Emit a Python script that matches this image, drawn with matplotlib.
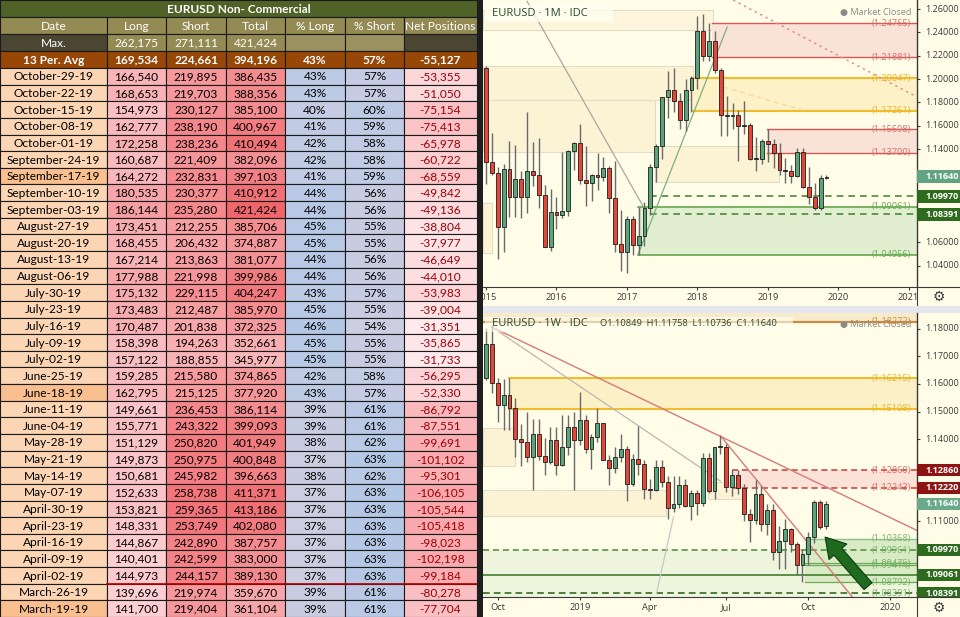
import numpy as np
import matplotlib
matplotlib.use("Agg")
import matplotlib.pyplot as plt
from matplotlib.patches import Rectangle
from matplotlib.colors import to_rgb

# ---------------- DATA: COT table ----------------
dates = ["October-29-19", "October-22-19", "October-15-19", "October-08-19", "October-01-19",
         "September-24-19", "September-17-19", "September-10-19", "September-03-19",
         "August-27-19", "August-20-19", "August-13-19", "August-06-19",
         "July-30-19", "July-23-19", "July-16-19", "July-09-19", "July-02-19",
         "June-25-19", "June-18-19", "June-11-19", "June-04-19",
         "May-28-19", "May-21-19", "May-14-19", "May-07-19",
         "April-30-19", "April-23-19", "April-16-19", "April-09-19", "April-02-19",
         "March-26-19", "March-19-19"]
long_pos = [166540, 168653, 154973, 162777, 172258, 160687, 164272, 180535, 186144, 173451, 168455,
            167214, 177988, 175132, 173483, 170487, 158398, 157122, 159285, 162795, 149661, 155771,
            151129, 149873, 150681, 152633, 153821, 148331, 144867, 140401, 144973, 139696, 141700]
short_pos = [219895, 219703, 230127, 238190, 238236, 221409, 232831, 230377, 235280, 212255, 206432,
             213863, 221998, 229115, 212487, 201838, 194263, 188855, 215580, 215125, 236453, 243322,
             250820, 250975, 245982, 258738, 259365, 253749, 242890, 242599, 244157, 219974, 219404]
total_pos = [386435, 388356, 385100, 400967, 410494, 382096, 397103, 410912, 421424, 385706, 374887,
             381077, 399986, 404247, 385970, 372325, 352661, 345977, 374865, 377920, 386114, 399093,
             401949, 400848, 396663, 411371, 413186, 402080, 387757, 383000, 389130, 359670, 361104]
pct_long = [43, 43, 40, 41, 42, 42, 41, 44, 44, 45, 45, 44, 44, 43, 45, 46, 45, 45, 42, 43, 39, 39,
            38, 37, 38, 37, 37, 37, 37, 37, 37, 39, 39]
pct_short = [57, 57, 60, 59, 58, 58, 59, 56, 56, 55, 55, 56, 56, 57, 55, 54, 55, 55, 58, 57, 61, 61,
             62, 63, 62, 63, 63, 63, 63, 63, 63, 61, 61]
net_pos = [-53355, -51050, -75154, -75413, -65978, -60722, -68559, -49842, -49136, -38804, -37977,
           -46649, -44010, -53983, -39004, -31351, -35865, -31733, -56295, -52330, -86792, -87551,
           -99691, -101102, -95301, -106105, -105544, -105418, -98023, -102198, -99184, -80278, -77704]
highlight_dates = ["September-17-19", "June-18-19", "March-19-19"]
table_title = "EURUSD Non- Commercial"
headers = ["Date", "Long", "Short", "Total", "% Long", "% Short", "Net Positions"]
max_vals = [262175, 271111, 421424]
avg_label = "13 Per. Avg"
avg_vals = [169534, 224661, 394196, "43%", "57%", -55127]

# ---------------- DATA: monthly candles (Jan 2015 .. Nov 2019) ----------------
m_open = [1.2098, 1.1291, 1.1196, 1.0731, 1.1225, 1.0986, 1.1146, 1.0985, 1.1212, 1.1177, 1.1004, 1.0564,
          1.0862, 1.0831, 1.0873, 1.1380, 1.1453, 1.1131, 1.1105, 1.1175, 1.1157, 1.1241, 1.0983, 1.0590,
          1.0517, 1.0798, 1.0575, 1.0652, 1.0895, 1.1242, 1.1426, 1.1843, 1.1906, 1.1813, 1.1646, 1.1902,
          1.2005, 1.2414, 1.2194, 1.2324, 1.2075, 1.1693, 1.1683, 1.1692, 1.1600, 1.1604, 1.1312, 1.1315,
          1.1466, 1.1446, 1.1370, 1.1217, 1.1214, 1.1169, 1.1371, 1.1076, 1.0988, 1.0899, 1.1150]
m_high = [1.2109, 1.1534, 1.1245, 1.1268, 1.1467, 1.1436, 1.1215, 1.1714, 1.1460, 1.1495, 1.1095, 1.1060,
          1.0986, 1.1376, 1.1392, 1.1464, 1.1616, 1.1428, 1.1186, 1.1366, 1.1328, 1.1258, 1.1300, 1.0875,
          1.0829, 1.0829, 1.0906, 1.0950, 1.1268, 1.1446, 1.1846, 1.2070, 1.2092, 1.1880, 1.2000, 1.2025,
          1.2537, 1.2555, 1.2476, 1.2414, 1.2096, 1.1852, 1.1791, 1.1733, 1.1815, 1.1625, 1.1500, 1.1485,
          1.1570, 1.1489, 1.1448, 1.1324, 1.1264, 1.1412, 1.1412, 1.1250, 1.1109, 1.1179, 1.1176]
m_low = [1.1098, 1.1177, 1.0457, 1.0520, 1.0818, 1.0818, 1.0808, 1.0848, 1.1086, 1.0897, 1.0558, 1.0523,
         1.0711, 1.0810, 1.0822, 1.1217, 1.1097, 1.0912, 1.0952, 1.1046, 1.1122, 1.0852, 1.0518, 1.0352,
         1.0340, 1.0494, 1.0494, 1.0569, 1.0839, 1.1119, 1.1312, 1.1662, 1.1717, 1.1575, 1.1554, 1.1718,
         1.1916, 1.2155, 1.2155, 1.2055, 1.1510, 1.1508, 1.1575, 1.1301, 1.1525, 1.1302, 1.1216, 1.1269,
         1.1289, 1.1234, 1.1176, 1.1110, 1.1107, 1.1160, 1.1070, 1.0926, 1.0879, 1.0879, 1.1143]
m_close = [1.1291, 1.1196, 1.0731, 1.1225, 1.0986, 1.1146, 1.0985, 1.1212, 1.1177, 1.1004, 1.0564, 1.0862,
           1.0831, 1.0873, 1.1380, 1.1453, 1.1131, 1.1105, 1.1175, 1.1157, 1.1241, 1.0983, 1.0590, 1.0517,
           1.0798, 1.0575, 1.0652, 1.0895, 1.1242, 1.1426, 1.1843, 1.1906, 1.1813, 1.1646, 1.1902, 1.2005,
           1.2414, 1.2194, 1.2324, 1.2075, 1.1693, 1.1683, 1.1692, 1.1600, 1.1604, 1.1312, 1.1315, 1.1466,
           1.1446, 1.1370, 1.1217, 1.1214, 1.1169, 1.1371, 1.1076, 1.0988, 1.0899, 1.1150, 1.1164]
m_years = ["2015", "2016", "2017", "2018", "2019", "2020", "2021"]
m_year_idx = [0, 12, 24, 36, 48, 60, 72]
m_price_ticks = [1.26, 1.24, 1.22, 1.20, 1.18, 1.16, 1.14, 1.06, 1.04]

# ---------------- DATA: weekly candles (week of 2018-09-17 .. 2019-10-28) ----------------
w_start = "2018-09-17"
w_open = [1.1623, 1.1747, 1.1604, 1.1525, 1.1561, 1.1511, 1.1400, 1.1389, 1.1333, 1.1418, 1.1339, 1.1315,
          1.1398, 1.1305, 1.1370, 1.1443, 1.1395, 1.1468, 1.1363, 1.1406, 1.1457, 1.1325, 1.1295, 1.1334,
          1.1365, 1.1236, 1.1326, 1.1308, 1.1217, 1.1215, 1.1297, 1.1245, 1.1150, 1.1162, 1.1234, 1.1157,
          1.1204, 1.1169, 1.1332, 1.1211, 1.1370, 1.1371, 1.1224, 1.1270, 1.1220, 1.1127, 1.1107, 1.1200,
          1.1091, 1.1143, 1.0989, 1.1028, 1.1073, 1.1018, 1.0940, 1.0980, 1.1045, 1.1170, 1.10849]
w_high = [1.1803, 1.1815, 1.1623, 1.1620, 1.1621, 1.1549, 1.1455, 1.1500, 1.1472, 1.1472, 1.1402, 1.1442,
          1.1443, 1.1486, 1.1486, 1.1498, 1.1570, 1.1488, 1.1417, 1.1514, 1.1460, 1.1343, 1.1372, 1.1420,
          1.1374, 1.1344, 1.1448, 1.1325, 1.1255, 1.1324, 1.1323, 1.1265, 1.1265, 1.1264, 1.1254, 1.1214,
          1.1214, 1.1348, 1.1348, 1.1372, 1.1412, 1.1381, 1.1286, 1.1286, 1.1237, 1.1147, 1.1250, 1.1230,
          1.1162, 1.1164, 1.1085, 1.1109, 1.1075, 1.1025, 1.1000, 1.1063, 1.1179, 1.1179, 1.11758]
w_low = [1.1613, 1.1569, 1.1463, 1.1433, 1.1432, 1.1336, 1.1302, 1.1316, 1.1216, 1.1322, 1.1268, 1.1310,
         1.1268, 1.1302, 1.1342, 1.1216, 1.1380, 1.1350, 1.1290, 1.1390, 1.1323, 1.1234, 1.1276, 1.1315,
         1.1176, 1.1229, 1.1270, 1.1183, 1.1183, 1.1210, 1.1226, 1.1110, 1.1135, 1.1150, 1.1153, 1.1106,
         1.1125, 1.1158, 1.1202, 1.1181, 1.1344, 1.1207, 1.1193, 1.1201, 1.1101, 1.1027, 1.1090, 1.1066,
         1.1052, 1.0960, 1.0926, 1.0927, 1.0990, 1.0905, 1.0879, 1.0940, 1.1023, 1.1073, 1.10736]
w_close = [1.1747, 1.1604, 1.1525, 1.1561, 1.1511, 1.1400, 1.1389, 1.1333, 1.1418, 1.1339, 1.1315, 1.1398,
           1.1305, 1.1370, 1.1443, 1.1395, 1.1468, 1.1363, 1.1406, 1.1457, 1.1325, 1.1295, 1.1334, 1.1365,
           1.1236, 1.1326, 1.1308, 1.1217, 1.1215, 1.1297, 1.1245, 1.1150, 1.1162, 1.1234, 1.1157, 1.1204,
           1.1169, 1.1332, 1.1211, 1.1370, 1.1371, 1.1224, 1.1270, 1.1220, 1.1127, 1.1107, 1.1200, 1.1091,
           1.1143, 1.0989, 1.1028, 1.1073, 1.1018, 1.0940, 1.0980, 1.1045, 1.1170, 1.1081, 1.11640]
w_tick_labels = ["Oct", "2019", "Apr", "Jul", "Oct", "2020"]
w_tick_dates = ["2018-10-01", "2019-01-07", "2019-04-01", "2019-07-01", "2019-10-07", "2020-01-13"]
w_price_ticks = [1.18, 1.17, 1.16, 1.15, 1.14, 1.11]

# ---------------- figure helpers ----------------
W, H = 960, 617
fig = plt.figure(figsize=(9.6, 6.17), dpi=100)
fig.patch.set_facecolor('#1e1e1e')
BG = '#fffde8'
CF = ['Open Sans', 'DejaVu Sans']
TF = ['Lato', 'DejaVu Sans']


def px_axes(x0, y0, x1, y1):
    return fig.add_axes([x0 / W, 1 - y1 / H, (x1 - x0) / W, (y1 - y0) / H])


def mix(c1, c2, t):
    a, b = to_rgb(c1), to_rgb(c2)
    return tuple(x + (y - x) * t for x, y in zip(a, b))


def norm(v, vals):
    return (v - min(vals)) / (max(vals) - min(vals))


# ---------------- TABLE ----------------
tab = px_axes(0, 0, 477, 617)
tab.set_xlim(0, 477)
tab.set_ylim(617, 0)
tab.axis('off')
col_x = [0, 107, 166, 226, 285, 345, 404, 477]
FS = 8.6


def cell(ci, y0, y1, fc, text='', color='black', bold=False, span=1):
    x0, x1 = col_x[ci], col_x[ci + span]
    tab.add_patch(Rectangle((x0, y0), x1 - x0, y1 - y0, facecolor=fc, edgecolor='#1a1a1a', lw=0.8))
    if text != '':
        tab.text((x0 + x1) / 2, (y0 + y1) / 2 + 0.6, text, ha='center', va='center', fontsize=FS,
                 color=color, fontweight='bold' if bold else 'normal', family=TF)


cell(0, 0, 17, '#4f6228', table_title, 'white', True, span=7)
for i, h in enumerate(headers):
    cell(i, 17, 34, '#948a54', h, 'white')
cell(0, 34, 51, '#4a4631', 'Max.', 'white')
for i, v in enumerate(max_vals):
    cell(i + 1, 34, 51, '#948a54', f"{v:,}", 'white')
cell(4, 34, 51, '#9a9060')
cell(5, 34, 51, '#9a9060')
cell(6, 34, 51, '#4a4631')
cell(0, 51, 68, '#974806', avg_label, 'white', True)
for i, v in enumerate(avg_vals):
    cell(i + 1, 51, 68, '#974806', f"{v:,}" if isinstance(v, int) else v, 'white', True)

rh = (617 - 68) / len(dates)
for r, d in enumerate(dates):
    y0 = 68 + r * rh
    y1 = y0 + rh
    cell(0, y0, y1, '#fabf8f' if d in highlight_dates else '#fcd5b4', d)
    cell(1, y0, y1, mix('#fcd0d3', '#f59fa3', norm(long_pos[r], long_pos)), f"{long_pos[r]:,}")
    cell(2, y0, y1, mix('#f9b3b6', '#f37378', norm(short_pos[r], short_pos)), f"{short_pos[r]:,}")
    cell(3, y0, y1, mix('#f8b6b9', '#f0676b', norm(total_pos[r], total_pos)), f"{total_pos[r]:,}")
    cell(4, y0, y1, mix('#cccde0', '#b4c8e6', norm(pct_long[r], pct_long)), f"{pct_long[r]}%")
    cell(5, y0, y1, mix('#cccde0', '#b4c8e6', norm(pct_short[r], pct_short)), f"{pct_short[r]}%")
    cell(6, y0, y1, mix('#f8a8ac', '#feeaec', norm(net_pos[r], net_pos)), f"{net_pos[r]:,}", '#9c0006')
yb = 68 + (len(dates) - 2) * rh
tab.plot([107, 477], [yb, yb], color='#b00000', lw=1.2)


# ---------------- CHART HELPERS ----------------
def price_map(p_ref, y_ref, px_per_unit):
    return lambda y: p_ref - (y - y_ref) / px_per_unit


def setup_main(ax, xlim, ylim):
    ax.set_facecolor(BG)
    ax.set_xlim(*xlim)
    ax.set_ylim(*ylim)
    ax.set_xticks([])
    ax.set_yticks([])
    for s in ax.spines.values():
        s.set_visible(False)


def candles(ax, o, h, l, c, min_h):
    o, h, l, c = map(np.asarray, (o, h, l, c))
    x = np.arange(len(o))
    up = c >= o
    ax.vlines(x, l, h, color='#6a6a6a', lw=1.0, zorder=5)
    bottom = np.minimum(o, c)
    height = np.maximum(np.abs(c - o), min_h)
    ax.bar(x[up], height[up], 0.66, bottom[up], color='#5aa67a', edgecolor='#1c1c1c', lw=0.6, zorder=6)
    ax.bar(x[~up], height[~up], 0.66, bottom[~up], color='#e6463a', edgecolor='#1c1c1c', lw=0.6, zorder=6)


def zone(ax, x0, x1, p0, p1, fc, ec='none', z=1, lw=0.8):
    ax.add_patch(Rectangle((x0, p0), x1 - x0, p1 - p0, facecolor=fc, edgecolor=ec, lw=lw, zorder=z))


def level(ax, p, x0, x1, color, lw=1.0, ls='-', z=3):
    ax.plot([x0, x1], [p, p], color=color, lw=lw, ls=ls, zorder=z)


def fib_label(ax, p, color):
    ax.text(0.986, p, f"({p:.5f})", transform=ax.get_yaxis_transform(), ha='right', va='center',
            fontsize=6.6, color=color, family=CF, zorder=8)


def price_axis(ax, ylim, ticks):
    ax.set_facecolor(BG)
    ax.set_xlim(0, 1)
    ax.set_ylim(*ylim)
    ax.set_xticks([])
    ax.set_yticks([])
    for s in ['top', 'right', 'bottom']:
        ax.spines[s].set_visible(False)
    ax.spines['left'].set_color('#3a3a3a')
    ax.spines['left'].set_linewidth(1.0)
    for t in ticks:
        ax.text(0.19, t, f"{t:.5f}", ha='left', va='center', fontsize=6.5, color='#3a3a3a', family=CF)
    ax.hlines(ticks, 0, 0.08, color='#3a3a3a', lw=0.8)


def price_box(ax, p, half, fc, text=None):
    ax.add_patch(Rectangle((0.0, p - half), 1.0, 2 * half, facecolor=fc, edgecolor='none', zorder=5))
    ax.text(0.19, p, text if text else f"{p:.5f}", ha='left', va='center', fontsize=6.5, color='white',
            fontweight='bold', family=CF, zorder=6)


def time_axis(ax, xlim, ticks, labels):
    ax.set_facecolor(BG)
    ax.set_xlim(*xlim)
    ax.set_ylim(0, 1)
    ax.set_xticks([])
    ax.set_yticks([])
    for s in ['left', 'right', 'bottom']:
        ax.spines[s].set_visible(False)
    ax.spines['top'].set_color('#3a3a3a')
    for t, lab in zip(ticks, labels):
        ax.text(t, 0.45, lab, ha='center', va='center', fontsize=6.7, color='#3a3a3a', family=CF,
                clip_on=True)
    ax.vlines(ticks, 0.84, 1.0, color='#3a3a3a', lw=0.8)


def corner(x0, y0, x1, y1):
    ax = px_axes(x0, y0, x1, y1)
    ax.set_facecolor(BG)
    ax.set_xticks([])
    ax.set_yticks([])
    for s in ['right', 'bottom']:
        ax.spines[s].set_visible(False)
    ax.spines['top'].set_color('#3a3a3a')
    ax.spines['left'].set_color('#3a3a3a')
    ax.text(0.5, 0.47, '\u2699', ha='center', va='center', fontsize=10, color='#3a3a3a',
            family='DejaVu Sans', transform=ax.transAxes)


# ---------------- TOP CHART (1M) ----------------
C1_X0, C1_X1, C1_Y0, C1_Y1 = 483, 917, 0, 287
mx_step, mx_ref = 5.87, 486
m_pr = price_map(1.26, 9, 1167)
m_xlim = ((C1_X0 - mx_ref) / mx_step, (C1_X1 - mx_ref) / mx_step)
m_ylim = (m_pr(C1_Y1), m_pr(C1_Y0))
X1R = m_xlim[1]

ax1 = px_axes(C1_X0, C1_Y0, C1_X1, C1_Y1)
setup_main(ax1, m_xlim, m_ylim)
L = m_xlim[0]
box_c, box_e = '#fcf2d4', '#e3ddc8'
zone(ax1, L, 38.7, 1.2420, 1.2591, '#fdf6dd', box_e)
zone(ax1, L, 35.3, 1.1820, 1.2112, box_c, box_e)
zone(ax1, L, 28.8, 1.1377, 1.1820, box_c, box_e)
zone(ax1, 28.8, 49.9, 1.1120, 1.1426, box_c, box_e)
zone(ax1, L, 1.0, 1.0509, 1.0938, box_c, box_e)
zone(ax1, 38.5, X1R, 1.21881, 1.24765, '#f9e3d6', z=2)
zone(ax1, 35.1, X1R, 1.17261, 1.20047, '#fdf1c8', z=2)
zone(ax1, 47.9, X1R, 1.13700, 1.15698, '#f9e3d6', z=2)
zone(ax1, 25.9, X1R, 1.04956, 1.09061, '#e1efd0', z=2)
RED, YEL, GRN, DGRN = '#d95757', '#f2bd2c', '#62a84c', '#4a8a3a'
for p in (1.24765, 1.21881):
    level(ax1, p, 38.5, X1R, RED)
for p in (1.20047, 1.17261):
    level(ax1, p, 35.1, X1R, YEL, lw=1.5)
for p in (1.15698, 1.13700):
    level(ax1, p, 47.9, X1R, RED)
for p in (1.09061, 1.04956):
    level(ax1, p, 25.9, X1R, GRN, lw=1.2)
for p in (1.09970, 1.08391):
    level(ax1, p, 28.0, X1R, DGRN, lw=1.2, ls=(0, (4, 3)))
ax1.plot([7.0, 26.8], [1.2665, 1.0906], color='#a8a8a0', lw=0.9, zorder=4)
ax1.plot([25.9, 41.1], [1.0496, 1.2446], color='#7fb07f', lw=0.9, zorder=4)
ax1.plot([42.1, 73.4], [1.2677, 1.1846], color='#e88a8a', lw=1.1, ls=(0, (1.5, 2.5)), zorder=4)
ax1.plot([40.4, 53.8], [1.1932, 1.1735], color='#f6d798', lw=0.9, ls=(0, (4, 3)), zorder=4)
candles(ax1, m_open, m_high, m_low, m_close, 0.0009)
for p, c in [(1.24765, '#e06a6a'), (1.21881, '#e06a6a'), (1.20047, '#eeb22a'), (1.17261, '#eeb22a'),
             (1.15698, '#e06a6a'), (1.13700, '#e06a6a'), (1.09061, '#6aaa5a'), (1.04956, '#6aaa5a')]:
    fib_label(ax1, p, c)
ax1.add_patch(Rectangle((2 / 434, 1 - 22 / 287), 128 / 434, 17 / 287, transform=ax1.transAxes,
                        facecolor='#fffff2', alpha=0.75, edgecolor='none', zorder=7))
ax1.text(9 / 434, 1 - 13 / 287, "EURUSD \u00b7 1M \u00b7 IDC", transform=ax1.transAxes, ha='left',
         va='center', fontsize=8.0, color='#2b472b', family=CF, zorder=8)
ax1.text(0.986, 1 - 13 / 287, "\u25cf Market Closed", transform=ax1.transAxes, ha='right', va='center',
         fontsize=6.6, color='#8a8a8a', family=CF, zorder=8)

pa1 = px_axes(C1_X1, C1_Y0, W, C1_Y1)
price_axis(pa1, m_ylim, m_price_ticks)
h1 = 6.5 / 1167
price_box(pa1, 1.11640, h1, '#62a383')
price_box(pa1, 1.09970, h1, '#2f6b1e')
price_box(pa1, 1.08391, h1, '#2f6b1e')

ta1 = px_axes(C1_X0, C1_Y1, C1_X1, 306)
time_axis(ta1, m_xlim, m_year_idx, m_years)
corner(C1_X1, C1_Y1, W, 306)
sep = px_axes(C1_X0, 306, W, 313)
sep.axis('off')
sep.add_patch(Rectangle((0, 0), 1, 1, transform=sep.transAxes, facecolor='#e6e6ee', edgecolor='none'))

# ---------------- BOTTOM CHART (1W) ----------------
C2_X0, C2_X1, C2_Y0, C2_Y1 = 483, 917, 313, 597
wx_step, wx_ref = 5.86, 486
w_pr = price_map(1.18, 329, 2750)
w_xlim = ((C2_X0 - wx_ref) / wx_step, (C2_X1 - wx_ref) / wx_step)
w_ylim = (w_pr(C2_Y1), w_pr(C2_Y0))
X2L, X2R = w_xlim

ax2 = px_axes(C2_X0, C2_Y0, C2_X1, C2_Y1)
setup_main(ax2, w_xlim, w_ylim)
zone(ax2, X2L, X2R, 1.18272, w_ylim[1], '#f8ebcb')
zone(ax2, X2L, 4.9, 1.1302, 1.1439, box_c, box_e)
zone(ax2, X2L, 30.8, 1.1120, 1.1215, box_c, box_e)
zone(ax2, 37.9, 43.9, 1.1181, 1.1245, box_c, box_e)
zone(ax2, 4.0, X2R, 1.15108, 1.16215, '#fcf0c6', z=2)
zone(ax2, 42.0, X2R, 1.12220, 1.12860, '#fae3d6', z=2)
zone(ax2, X2L, X2R, w_ylim[0], 1.09961, '#eef5dc', z=2)
zone(ax2, 54.4, X2R, 1.08792, 1.10368, '#d8ebc4', z=2)
level(ax2, 1.18272, X2L, X2R, '#c98a45', lw=1.6)
level(ax2, 1.16215, 4.0, X2R, YEL, lw=1.5)
level(ax2, 1.15108, 4.0, X2R, YEL, lw=1.5)
level(ax2, 1.12860, 42.0, X2R, '#c83a3a', lw=1.1, ls=(0, (4, 2.5)))
level(ax2, 1.12220, 42.0, X2R, '#c83a3a', lw=1.1, ls=(0, (4, 2.5)))
level(ax2, 1.10368, 54.4, X2R, '#8cc08c', lw=1.0)
level(ax2, 1.09961, X2L, X2R, DGRN, lw=1.1, ls=(0, (4, 2.5)))
level(ax2, 1.09475, 54.4, X2R, '#6aaa55', lw=0.9)
level(ax2, 1.09414, 54.4, X2R, '#6aaa55', lw=0.9)
level(ax2, 1.09061, X2L, X2R, '#3f7f2f', lw=1.2)
level(ax2, 1.08792, 54.4, X2R, '#6aaa55', lw=0.9)
level(ax2, 1.08391, X2L, X2R, '#2f6b1e', lw=1.2, ls=(0, (4, 2.5)))
ax2.plot([1.0, 73.5], [1.1807, 1.1068], color='#d77a7a', lw=1.0, zorder=4)
ax2.plot([40.0, 62.5], [1.1412, 1.0826], color='#d77a7a', lw=1.0, zorder=4)
ax2.plot([1.0, 40.0], [1.1807, 1.1247], color='#b8b8b0', lw=0.9, zorder=4)
ax2.plot([29.1, 32.0], [1.0839, 1.1117], color='#c8c8c8', lw=0.9, zorder=4)
candles(ax2, w_open, w_high, w_low, w_close, 0.0004)
for p, c in [(1.18272, '#d48a3a'), (1.16215, '#eeb22a'), (1.15108, '#eeb22a'), (1.12860, '#e06a6a'),
             (1.12243, '#e06a6a'), (1.10368, '#78b46a'), (1.09961, '#78b46a'), (1.09475, '#78b46a'),
             (1.09414, '#78b46a'), (1.08792, '#78b46a'), (1.08391, '#78b46a')]:
    fib_label(ax2, p, c)
ax2.annotate('', xy=(57.56, 1.10509), xytext=(65.5, 1.08571),
             arrowprops=dict(arrowstyle='simple,head_length=1.4,head_width=1.7,tail_width=0.75',
                             fc='#1f6a1f', ec='#0e3a0e', lw=0.8, mutation_scale=10), zorder=9)
ax2.add_patch(Rectangle((2 / 434, 1 - 19 / 284), 308 / 434, 15 / 284, transform=ax2.transAxes,
                        facecolor='#fffff2', alpha=0.6, edgecolor='none', zorder=7))
ax2.text(9 / 434, 1 - 11 / 284, "EURUSD \u00b7 1W \u00b7 IDC", transform=ax2.transAxes, ha='left',
         va='center', fontsize=8.0, color='#2b472b', family=CF, zorder=8)
ax2.text(117 / 434, 1 - 11 / 284, "O1.10849  H1.11758  L1.10736  C1.11640", transform=ax2.transAxes,
         ha='left', va='center', fontsize=6.7, color='#2b472b', family=CF, zorder=8)
ax2.text(0.986, 1 - 11 / 284, "\u25cf Market Closed", transform=ax2.transAxes, ha='right', va='center',
         fontsize=6.6, color='#8a8a8a', family=CF, zorder=7)

pa2 = px_axes(C2_X1, C2_Y0, W, C2_Y1)
price_axis(pa2, w_ylim, w_price_ticks)
h2 = 6.0 / 2750
price_box(pa2, 1.12860, h2, '#8e1414')
price_box(pa2, 1.12220, h2, '#8e1414')
price_box(pa2, 1.11640, h2, '#6aa98a')
price_box(pa2, 1.09970, h2, '#2f6b1e')
price_box(pa2, 1.09061, h2, '#2f6b1e')
price_box(pa2, 1.08391, h2, '#2f6b1e')

w_ticks = [(np.datetime64(d) - np.datetime64(w_start)).astype(int) / 7 for d in w_tick_dates]
ta2 = px_axes(C2_X0, C2_Y1, C2_X1, H)
time_axis(ta2, w_xlim, w_ticks, w_tick_labels)
corner(C2_X1, C2_Y1, W, H)

fig.savefig("out.png", dpi=100, facecolor=fig.get_facecolor())
